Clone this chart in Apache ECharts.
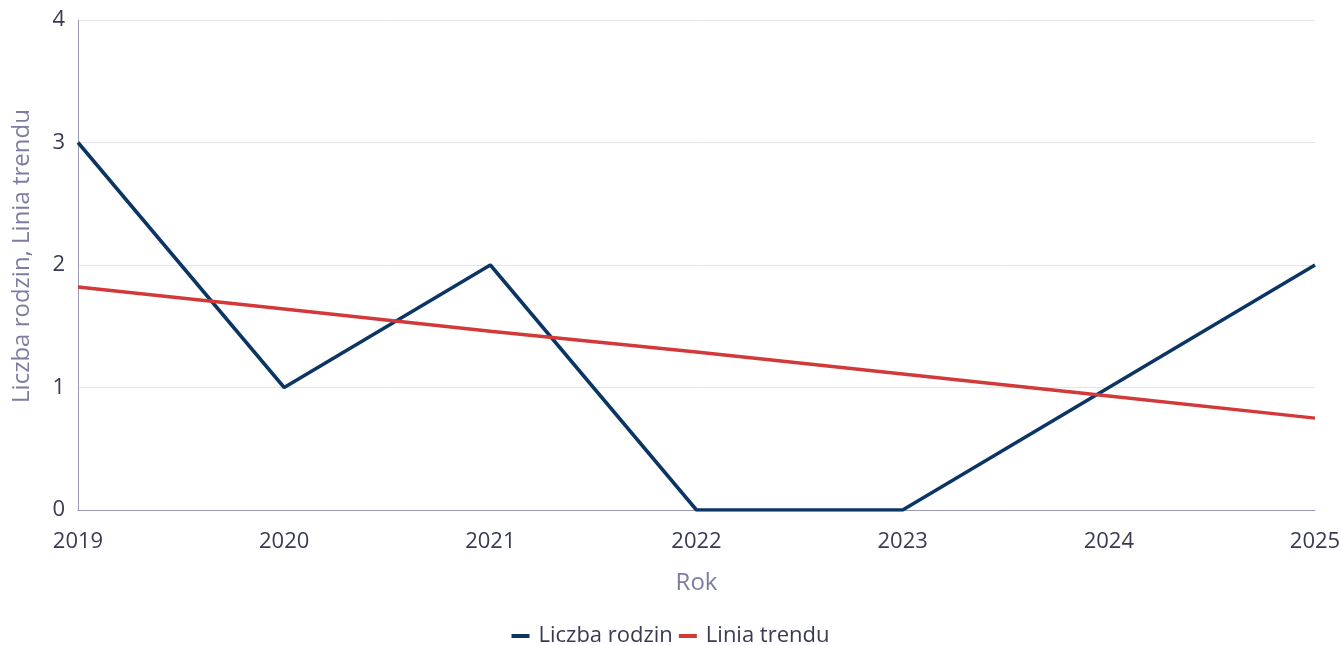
<!DOCTYPE html>
<html><head><meta charset="utf-8">
<script src="https://cdn.jsdelivr.net/npm/echarts@6/dist/echarts.min.js"></script>
<style>html,body{margin:0;padding:0;background:#fff}#c{width:1341px;height:645px}</style>
</head><body><div id="c"></div>
<script>
const years = ['2019','2020','2021','2022','2023','2024','2025'];
const familyCounts = [3, 1, 2, 0, 0, 1, 2];
const trendValues = [1.82, 1.64, 1.46, 1.29, 1.11, 0.93, 0.75];
const yTicks = [0, 1, 2, 3, 4];

const font = '"Open Sans", "Noto Sans", sans-serif';
const chart = echarts.init(document.getElementById('c'));
chart.setOption({
  animation: false,
  textStyle: { fontFamily: font },
  grid: { left: 78, right: 26, top: 20, bottom: 135, containLabel: false, outerBoundsMode: 'none' },
  legend: {
    top: 620, left: 'center',
    itemWidth: 18, itemHeight: 4, itemGap: 6,
    icon: 'rect',
    textStyle: { fontFamily: font, fontSize: 22, color: '#3a3a55', padding: [0, 0, 0, 4] },
    data: ['Liczba rodzin', 'Linia trendu']
  },
  xAxis: {
    type: 'category', data: years, boundaryGap: false,
    name: 'Rok', nameLocation: 'middle', nameGap: 61,
    nameTextStyle: { fontFamily: font, fontSize: 24, color: '#7d7da3' },
    axisLine: { show: true, lineStyle: { color: '#9a9ab8', width: 1 } },
    axisTick: { show: false },
    axisLabel: { fontFamily: font, fontSize: 22, color: '#3a3a55', margin: 21 },
    splitLine: { show: false }
  },
  yAxis: {
    type: 'value', min: yTicks[0], max: yTicks[yTicks.length-1], interval: 1,
    name: 'Liczba rodzin, Linia trendu', nameLocation: 'middle', nameGap: 44,
    nameTextStyle: { fontFamily: font, fontSize: 24, color: '#7d7da3', padding: [0, 0, 0, 18] },
    axisLine: { show: true, lineStyle: { color: '#9a9ab8', width: 1 } },
    axisTick: { show: false },
    axisLabel: { fontFamily: font, fontSize: 22, color: '#3a3a55', margin: 13 },
    splitLine: { show: true, lineStyle: { color: '#e4e4ec', width: 1 } }
  },
  series: [
    { name: 'Liczba rodzin', type: 'line', data: familyCounts, symbol: 'none',
      lineStyle: { color: '#0b3564', width: 3.5 }, itemStyle: { color: '#0b3564' } },
    { name: 'Linia trendu', type: 'line', data: trendValues, symbol: 'none',
      lineStyle: { color: '#d23a3a', width: 3.5 }, itemStyle: { color: '#d23a3a' } }
  ]
});
</script></body></html>
